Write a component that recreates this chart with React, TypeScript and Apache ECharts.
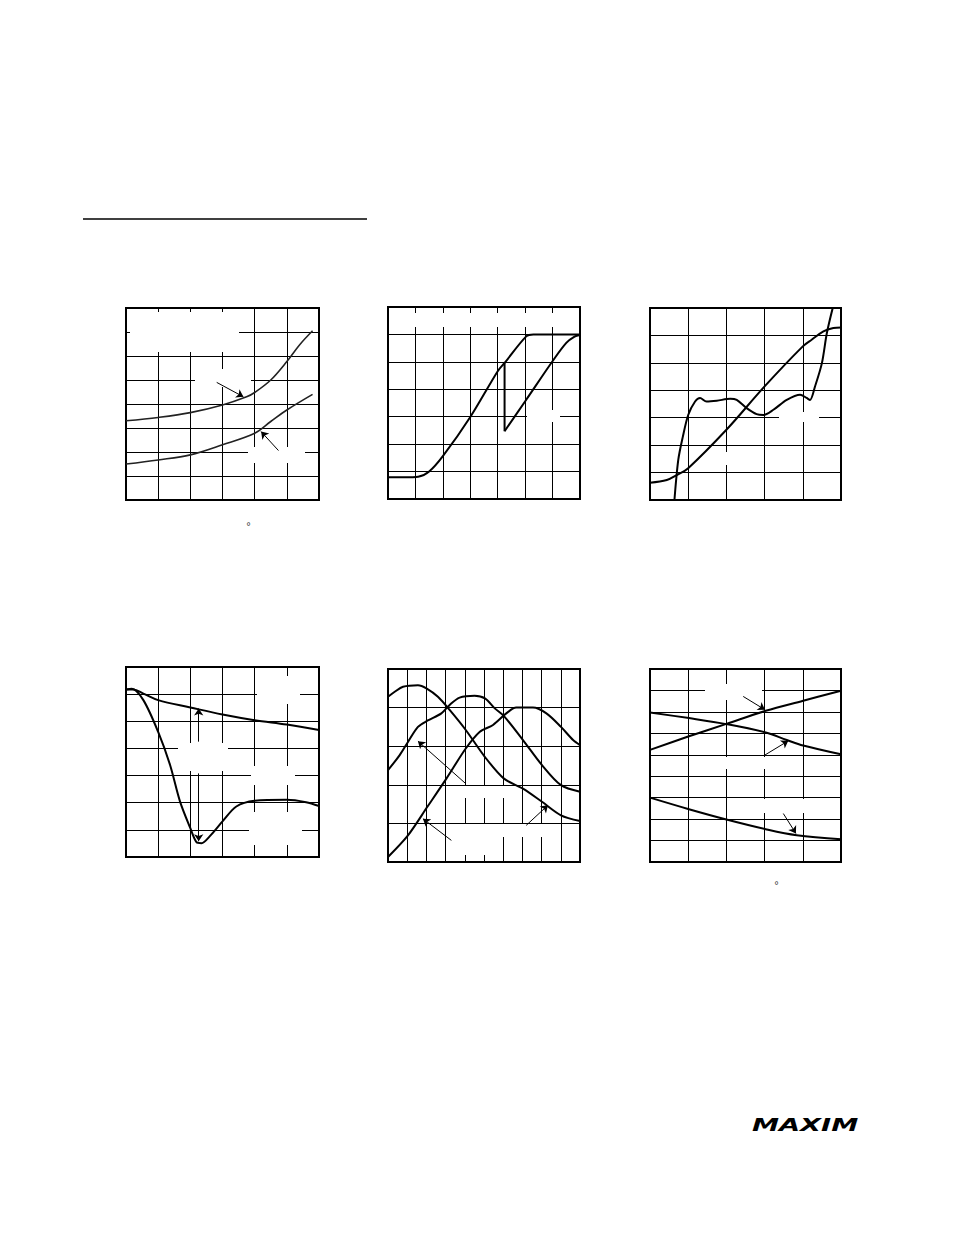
import React, { useEffect, useRef } from "react";
import * as echarts from "echarts";

// ---------- data (grid units) ----------
// Chart 1
const c1Upper = [[0, 3.3], [1, 3.44], [2, 3.64], [3, 3.96], [3.75, 4.3], [4, 4.48], [4.5, 5.0], [5, 5.77], [5.4, 6.47], [5.8, 7.05]];
const c1Lower = [[0, 1.5], [1, 1.67], [2, 1.88], [3, 2.3], [4, 2.78], [4.5, 3.27], [5, 3.75], [5.8, 4.4]];
const c1Arrows = [[[2.82, 4.9], [3.65, 4.3]], [[4.74, 2.06], [4.2, 2.85]]];
// Chart 2
const c2Rise = [[0, 0.79], [0.6, 0.79], [1.1, 0.81], [1.5, 1.0], [2, 1.56], [3, 2.99], [4, 4.66], [4.25, 4.96], [5.04, 5.93], [5.3, 6.0], [7, 6.0]];
const c2Drop = [[4.25, 4.96], [4.25, 2.47]];
const c2Return = [[4.25, 2.47], [5.04, 3.62], [6.01, 5.04], [6.5, 5.69], [6.8, 5.92], [7, 5.98]];
// Chart 3
const c3Linear = [[0, 0.63], [0.44, 0.73], [0.7, 0.91], [1, 1.16], [2, 2.56], [3, 4.14], [4, 5.6], [4.24, 5.85], [4.54, 6.15], [4.8, 6.27], [5, 6.29]];
const c3Wavy = [[0.64, 0], [0.74, 1.46], [0.86, 2.31], [1, 3.1], [1.18, 3.59], [1.31, 3.72], [1.48, 3.59], [1.75, 3.62], [2.1, 3.69], [2.27, 3.65], [2.53, 3.35], [2.79, 3.13], [2.97, 3.1], [3.23, 3.29], [3.58, 3.65], [3.93, 3.84], [4.1, 3.72], [4.19, 3.65], [4.32, 4.14], [4.5, 4.99], [4.63, 6.09], [4.79, 7.04]];
// Chart 4
const c4Top = [[0, 6.17], [0.23, 6.17], [0.54, 6.02], [1, 5.78], [2, 5.51], [3, 5.25], [4, 5.04], [5, 4.88], [6, 4.68]];
const c4Dip = [[0, 6.17], [0.18, 6.2], [0.54, 5.78], [1, 4.61], [1.37, 3.39], [1.68, 2.04], [2, 1.06], [2.19, 0.55], [2.35, 0.51], [2.6, 0.76], [3, 1.31], [3.43, 1.86], [4, 2.07], [5, 2.11], [5.6, 2.02], [6, 1.88]];
const c4Arrows = [[[2.26, 4.25], [2.26, 5.47]], [[2.26, 3.08], [2.26, 0.58]]];
// Chart 5
const c5A = [[0, 4.28], [0.35, 4.41], [0.78, 4.54], [1.56, 4.58], [2, 4.5], [2.6, 4.28], [3.21, 3.94], [4.05, 3.42], [5.05, 2.72], [6.04, 2.16], [7.03, 1.9], [8.02, 1.56], [9.01, 1.21], [10, 1.06]];
const c5B = [[0, 2.38], [0.61, 2.77], [1.04, 3.11], [1.56, 3.5], [2.05, 3.66], [2.78, 3.85], [3.21, 4.07], [3.73, 4.26], [4.51, 4.31], [5.05, 4.24], [5.56, 3.98], [6.04, 3.78], [7.03, 3.16], [8.02, 2.51], [9.01, 1.99], [10, 1.82]];
const c5C = [[0, 0.13], [1.04, 0.69], [2.05, 1.43], [3.04, 2.16], [4.05, 2.94], [4.77, 3.37], [5.47, 3.55], [6.16, 3.85], [6.68, 4.0], [7.55, 4.0], [8.25, 3.85], [9.01, 3.5], [9.64, 3.16], [10, 3.03]];
const c5Arrows = [[[4.05, 2.03], [1.56, 3.13]], [[3.3, 0.56], [1.82, 1.12]], [[7.2, 0.95], [8.33, 1.47]]];
// Chart 6
const c6Rise = [[0, 5.23], [1, 5.85], [2, 6.44], [3.03, 7.05], [4.01, 7.52], [5, 7.99]];
const c6Fall = [[0, 6.97], [1.02, 6.71], [2, 6.43], [3.03, 6.04], [3.58, 5.69], [4.01, 5.43], [5, 5.02]];
const c6Low = [[0, 3.0], [1.02, 2.46], [2, 1.98], [3.03, 1.53], [3.84, 1.25], [5, 1.06]];
const c6Arrows = [[[2.44, 7.72], [3.01, 7.1]], [[3.01, 4.99], [3.62, 5.65]], [[3.49, 2.26], [3.82, 1.33]]];

// grid divisions per panel (columns, rows)
const panelCols = [6, 7, 5, 6, 10, 5];
const panelRows = [8, 7, 7, 7, 5, 9];

// ---------- layout ----------
const panels = [
  { left: 126, top: 308, width: 193, height: 192 },
  { left: 388, top: 307, width: 192, height: 192 },
  { left: 650, top: 308, width: 191, height: 192 },
  { left: 126, top: 667, width: 193, height: 190 },
  { left: 388, top: 669, width: 192, height: 193 },
  { left: 650, top: 669, width: 191, height: 193 },
];

// white blanks where labels sat inside the plots
const blanks = [
  [130, 312, 109, 40], [195, 369, 56, 18], [248, 447, 57, 16],
  [391, 313, 187, 14], [527, 410, 33, 12],
  [779, 412, 40, 10], [721, 452, 12, 13],
  [257, 676, 43, 28], [178, 743, 50, 28], [251, 766, 44, 19], [249, 812, 53, 33],
  [458, 786, 54, 12], [452, 824, 93, 13], [452, 837, 50, 18],
  [705, 684, 57, 16], [700, 757, 95, 12], [745, 799, 85, 14],
];

function lineSeries(idx: number, data: number[][], opts: any = {}) {
  return {
    type: "line",
    xAxisIndex: idx,
    yAxisIndex: idx,
    data,
    showSymbol: false,
    symbol: "none",
    smooth: opts.smooth ?? 0.35,
    z: 10,
    lineStyle: { color: opts.color ?? "#000", width: opts.width ?? 2 },
    silent: true,
  };
}

function arrowSeries(idx: number, arrows: number[][][]) {
  return {
    type: "lines",
    coordinateSystem: "cartesian2d",
    xAxisIndex: idx,
    yAxisIndex: idx,
    symbol: ["none", "arrow"],
    symbolSize: 7,
    z: 11,
    silent: true,
    lineStyle: { color: "#000", width: 1, opacity: 1 },
    data: arrows.map((c) => ({ coords: c })),
  };
}

export default function App() {
  const ref = useRef<HTMLDivElement>(null);
  useEffect(() => {
    if (!ref.current) return;
    const chart = echarts.init(ref.current, undefined, { renderer: "svg" });
    const grid = panels.map((p) => ({
      ...p,
      show: true,
      borderColor: "#000",
      borderWidth: 2,
      backgroundColor: "transparent",
    }));
    const axisCommon = {
      type: "value",
      axisLine: { show: false },
      axisTick: { show: false },
      axisLabel: { show: false },
      splitLine: { show: true, lineStyle: { color: "#000", width: 1 } },
    };
    const xAxis = panels.map((_, i) => ({ ...axisCommon, gridIndex: i, min: 0, max: panelCols[i], interval: 1 }));
    const yAxis = panels.map((_, i) => ({ ...axisCommon, gridIndex: i, min: 0, max: panelRows[i], interval: 1 }));

    const series: any[] = [
      lineSeries(0, c1Upper, { color: "#222", width: 1.6 }),
      lineSeries(0, c1Lower, { color: "#222", width: 1.6 }),
      arrowSeries(0, c1Arrows),
      lineSeries(1, c2Rise, { smooth: 0.3 }),
      lineSeries(1, c2Drop, { smooth: false }),
      lineSeries(1, c2Return, { smooth: 0.3 }),
      lineSeries(2, c3Linear),
      lineSeries(2, c3Wavy, { smooth: 0.3 }),
      lineSeries(3, c4Top),
      lineSeries(3, c4Dip, { smooth: 0.3 }),
      arrowSeries(3, c4Arrows),
      lineSeries(4, c5A, { smooth: 0.3 }),
      lineSeries(4, c5B, { smooth: 0.3 }),
      lineSeries(4, c5C, { smooth: 0.3 }),
      arrowSeries(4, c5Arrows),
      lineSeries(5, c6Rise),
      lineSeries(5, c6Fall),
      lineSeries(5, c6Low),
      arrowSeries(5, c6Arrows),
    ];

    const graphic: any[] = [
      ...blanks.map(([x, y, w, h]) => ({
        type: "rect",
        shape: { x, y, width: w, height: h },
        style: { fill: "#fff" },
        z: 5,
        silent: true,
      })),
      {
        type: "line",
        shape: { x1: 83, y1: 219, x2: 367, y2: 219 },
        style: { stroke: "#000", lineWidth: 1.5 },
        z: 5,
      },
      {
        type: "text",
        x: 246,
        y: 521,
        style: { text: "°", fontSize: 10, fill: "#444", fontFamily: "DejaVu Sans" },
        z: 5,
      },
      {
        type: "text",
        x: 774,
        y: 880,
        style: { text: "°", fontSize: 10, fill: "#444", fontFamily: "DejaVu Sans" },
        z: 5,
      },
      {
        type: "text",
        x: 752,
        y: 1117,
        scaleX: 1.6,
        style: {
          text: "MAXIM",
          fontSize: 17,
          fontWeight: 900,
          fontStyle: "italic",
          fontFamily: "DejaVu Sans",
          fill: "#000",
        },
        z: 5,
      },
    ];

    chart.setOption({
      animation: false,
      backgroundColor: "#fff",
      grid,
      xAxis,
      yAxis,
      series,
      graphic,
    });
    return () => chart.dispose();
  }, []);
  return (
    <div
      ref={ref}
      style={{ position: "absolute", left: 0, top: 0, width: 954, height: 1235 }}
    />
  );
}
